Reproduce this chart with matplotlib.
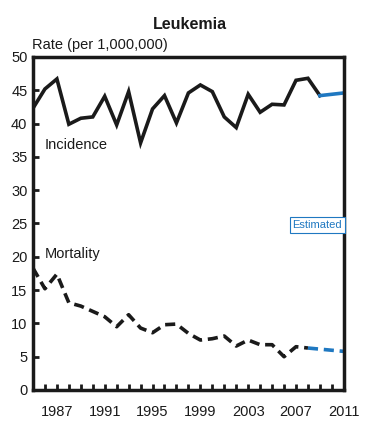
import numpy as np
import matplotlib
matplotlib.use('Agg')
import matplotlib.pyplot as plt

plt.rcParams['font.family'] = ['Liberation Sans Narrow', 'Liberation Sans', 'DejaVu Sans']

years = list(range(1985, 2010))
incidence = [42.3, 45.2, 46.7, 39.9, 40.8, 41.0, 44.1, 39.8, 44.8, 37.1, 42.2, 44.2, 40.1,
             44.6, 45.8, 44.8, 41.0, 39.4, 44.4, 41.7, 42.9, 42.8, 46.5, 46.8, 44.2]
mort_years = list(range(1985, 2009))
mortality = [18.3, 15.2, 17.4, 13.1, 12.6, 11.8, 11.0, 9.5, 11.3, 9.3, 8.6, 9.8, 9.9,
             8.5, 7.5, 7.7, 8.1, 6.6, 7.5, 6.8, 6.8, 5.0, 6.5, 6.3]
inc_est_years = [2009, 2011]
inc_est = [44.2, 44.6]
mort_est_years = [2008, 2011]
mort_est = [6.3, 5.8]

blue = '#1f78c1'

fig = plt.figure(figsize=(3.8, 4.38), dpi=100)
ax = fig.add_axes([0.0868, 0.1096, 0.818, 0.7603])

ax.plot(years, incidence, color='#1a1a1a', lw=2.6, solid_joinstyle='miter')
ax.plot(inc_est_years, inc_est, color=blue, lw=2.6)
ax.plot(mort_years, mortality, color='#1a1a1a', lw=2.6, dashes=(2.8, 1.6))
ax.plot(mort_est_years, mort_est, color=blue, lw=2.6, dashes=(2.8, 1.6))

ax.set_xlim(1985, 2011)
ax.set_ylim(0, 50)
ax.set_xticks(range(1987, 2012, 4))
ax.set_xticks(range(1985, 2012), minor=True)
ax.set_yticks(range(0, 51, 5))
ax.tick_params(axis='both', which='both', direction='in', width=2, labelsize=10.5, colors='#1a1a1a')
ax.tick_params(axis='x', which='major', length=4, pad=11)
ax.tick_params(axis='x', which='minor', length=4)
ax.tick_params(axis='y', length=4, pad=4)
for s in ax.spines.values():
    s.set_linewidth(2.5)
    s.set_color('#1a1a1a')

ax.text(1986, 36.8, 'Incidence', fontsize=10.5, color='#1a1a1a', va='center')
ax.text(1986, 20.4, 'Mortality', fontsize=10.5, color='#1a1a1a', va='center')
ax.text(2010.85, 24.8, 'Estimated', fontsize=8, color=blue, ha='right', va='center',
        bbox=dict(boxstyle='square,pad=0.25', fc='white', ec=blue, lw=0.8))

fig.text(0.5, 0.943, 'Leukemia', fontsize=11.5, fontweight='bold', ha='center', va='center', color='#1a1a1a')
fig.text(0.084, 0.897, 'Rate (per 1,000,000)', fontsize=10.5, ha='left', va='center', color='#1a1a1a')

fig.savefig('out.png', dpi=100)
